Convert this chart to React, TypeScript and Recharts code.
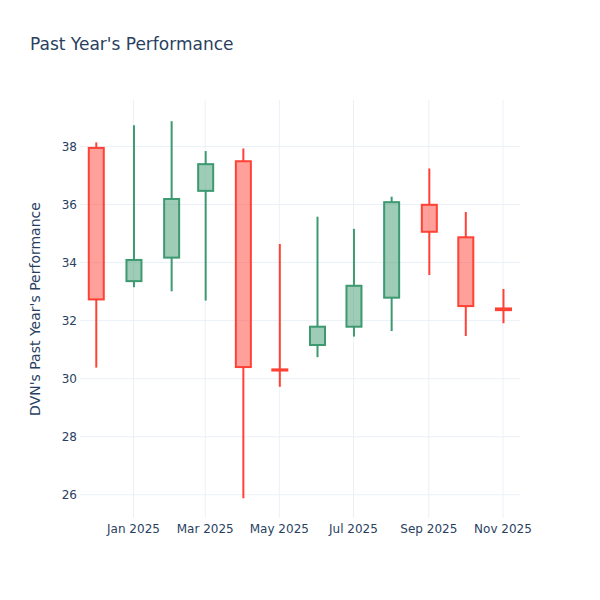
import React from 'react';
import { ComposedChart, Bar, XAxis, YAxis, CartesianGrid } from 'recharts';

const dates = ['2024-12-01', '2025-01-01', '2025-02-01', '2025-03-01', '2025-04-01', '2025-05-01', '2025-06-01', '2025-07-01', '2025-08-01', '2025-09-01', '2025-10-01', '2025-11-01'];
const opens = [37.95, 33.36, 34.17, 36.47, 37.49, 30.32, 31.16, 31.79, 32.79, 35.99, 34.87, 32.42];
const closes = [32.73, 34.09, 36.19, 37.39, 30.4, 30.28, 31.79, 33.2, 36.08, 35.06, 32.5, 32.36];
const highs = [38.14, 38.73, 38.87, 37.84, 37.93, 34.64, 35.58, 35.16, 36.27, 37.24, 35.74, 33.09];
const lows = [30.38, 33.15, 33.01, 32.69, 25.88, 29.72, 30.74, 31.45, 31.64, 33.57, 31.47, 31.91];

const xTickDates = ['2025-01-01', '2025-03-01', '2025-05-01', '2025-07-01', '2025-09-01', '2025-11-01'];
const yTicks = [26, 28, 30, 32, 34, 36, 38];
const monthNames = ['Jan', 'Feb', 'Mar', 'Apr', 'May', 'Jun', 'Jul', 'Aug', 'Sep', 'Oct', 'Nov', 'Dec'];

const toTs = (s: string) => {
  const [y, m, d] = s.split('-').map(Number);
  return Date.UTC(y, m - 1, d);
};

const data = dates.map((d, i) => ({
  t: toTs(d),
  open: opens[i],
  close: closes[i],
  high: highs[i],
  low: lows[i],
}));

const xTicks = xTickDates.map(toTs);
const xDomain = [toTs('2024-11-18'), toTs('2025-11-15')];
const yDomain = [25.2, 39.6];

const fmt = (v: number) => {
  const d = new Date(v);
  return `${monthNames[d.getUTCMonth()]} ${d.getUTCFullYear()}`;
};

const INC = '#3D9970';
const INC_FILL = 'rgba(61,153,112,0.5)';
const DEC = '#FF4136';
const DEC_FILL = 'rgba(255,65,54,0.5)';
const GRID = '#EBF0F8';

const Candle = (props: any) => {
  const { x, y, width, height, payload } = props;
  if (!payload) return null;
  const { open, close, high, low } = payload;
  const top = Math.min(y, y + height);
  const h = Math.abs(height);
  const ratio = h / (high - low);
  const yOf = (v: number) => top + (high - v) * ratio;
  const up = close >= open;
  const stroke = up ? INC : DEC;
  const fill = up ? INC_FILL : DEC_FILL;
  const cx = x + width / 2;
  const bTop = yOf(Math.max(open, close));
  const bBot = yOf(Math.min(open, close));
  return (
    <g>
      <line x1={cx} x2={cx} y1={yOf(high)} y2={bTop} stroke={stroke} strokeWidth={2} />
      <line x1={cx} x2={cx} y1={bBot} y2={yOf(low)} stroke={stroke} strokeWidth={2} />
      <rect x={x} y={bTop} width={width} height={Math.max(bBot - bTop, 0)} fill={fill} stroke={stroke} strokeWidth={2} />
    </g>
  );
};

const hGen = (p: any) => {
  const s = p && p.yAxis && p.yAxis.scale;
  if (typeof s === 'function') return yTicks.map((t) => s(t));
  const o = p.offset;
  return yTicks.map((t) => o.top + ((yDomain[1] - t) / (yDomain[1] - yDomain[0])) * o.height);
};
const vGen = (p: any) => {
  const s = p && p.xAxis && p.xAxis.scale;
  if (typeof s === 'function') return xTicks.map((t) => s(t));
  const o = p.offset;
  return xTicks.map((t) => o.left + ((t - xDomain[0]) / (xDomain[1] - xDomain[0])) * o.width);
};

const font = '"DejaVu Sans", verdana, arial, sans-serif';

export default function App() {
  return (
    <div style={{ position: 'absolute', left: 0, top: 0, width: 600, height: 600, background: '#fff' }}>
      <div style={{ position: 'absolute', left: 30, top: 34, fontFamily: font, fontSize: 17, color: '#2a3f5f', whiteSpace: 'nowrap', lineHeight: '20px' }}>
        Past Year's Performance
      </div>
      <ComposedChart
        width={600}
        height={600}
        data={data}
        margin={{ top: 100, right: 80, bottom: 0, left: 0 }}
        style={{ fontFamily: font }}
      >
        <CartesianGrid
          stroke={GRID}
          strokeWidth={1}
          horizontalCoordinatesGenerator={hGen}
          verticalCoordinatesGenerator={vGen}
        />
        <XAxis
          dataKey="t"
          type="number"
          scale="time"
          domain={xDomain}
          ticks={xTicks}
          tickFormatter={fmt}
          height={82}
          axisLine={false}
          tickLine={false}
          tickSize={0}
          tickMargin={6}
          tick={{ fill: '#2a3f5f', fontSize: 12 }}
          allowDataOverflow
        />
        <YAxis
          type="number"
          domain={yDomain}
          ticks={yTicks}
          width={80}
          axisLine={false}
          tickLine={false}
          tickSize={0}
          tickMargin={3}
          tick={{ fill: '#2a3f5f', fontSize: 12 }}
          allowDataOverflow
          label={{
            content: () => (
              <text x={40} y={309} transform="rotate(-90 40 309)" textAnchor="middle" fill="#2a3f5f" fontSize={14} fontFamily={font}>
                DVN's Past Year's Performance
              </text>
            ),
          }}
        />
        <Bar
          dataKey={(d: any) => [d.low, d.high]}
          barSize={15}
          shape={<Candle />}
          isAnimationActive={false}
        />
      </ComposedChart>
    </div>
  );
}
